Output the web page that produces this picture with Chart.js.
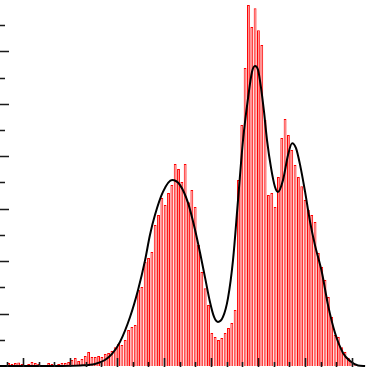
<!DOCTYPE html>
<html>
<head>
<meta charset="utf-8">
<script src="https://cdn.jsdelivr.net/npm/chart.js@4"></script>
<style>
html,body{margin:0;padding:0;background:#fff;overflow:hidden;}
canvas{display:block;}
</style>
</head>
<body>
<canvas id="c" width="367" height="367"></canvas>
<script>
// Histogram bins: first bin center and bin width (x units)
const binStart = -1.34;
const binWidth = 0.2125;
// Histogram heights per bin
const counts = [
  0, 0, 0.11, 0.08, 0.11, 0.13, 0.08, 0, 0.08, 0.15,
  0.11, 0.08, 0.04, 0, 0.11, 0.08, 0, 0.08, 0.11, 0.11,
  0.15, 0.23, 0.31, 0.19, 0.27, 0.38, 0.53, 0.34, 0.34, 0.38,
  0.34, 0.46, 0.50, 0.57, 0.72, 0.84, 0.80, 0.99, 1.37, 1.49,
  1.56, 2.90, 3.01, 3.97, 4.12, 4.35, 5.38, 5.76, 6.41, 6.14,
  6.60, 6.90, 7.70, 7.51, 7.02, 7.70, 6.25, 6.71, 6.06, 4.62,
  3.59, 2.97, 2.33, 1.26, 1.11, 0.99, 1.07, 1.26, 1.45, 1.64,
  2.14, 7.09, 9.19, 11.37, 13.77, 12.93, 13.65, 12.81, 12.24, 9.38,
  6.52, 6.60, 6.06, 7.21, 8.70, 9.42, 8.81, 8.24, 7.67, 7.21,
  6.86, 6.33, 5.95, 5.76, 5.49, 4.31, 3.78, 3.28, 2.63, 1.87,
  1.18, 1.11, 0.72, 0.53, 0.31, 0.15, 0.08, 0, 0, 0
];
// Density curve (x, y)
const curveX = [-1.5, 2.36, 3.64, 4.59, 5.23, 5.68, 6.19, 6.83, 7.34, 7.79, 8.10, 8.42, 8.93, 9.51, 10.02, 10.53, 10.98, 11.30, 11.62, 11.93, 12.19, 12.44, 12.76, 13.08, 13.40, 13.72, 14.04, 14.36, 14.61, 14.80, 15.00, 15.19, 15.38, 15.57, 15.83, 16.08, 16.27, 16.59, 16.91, 17.17, 17.42, 17.68, 18.00, 18.32, 18.63, 19.08, 19.46, 19.91, 20.42, 20.87, 21.38, 21.83];
const curveY = [0, 0, 0.02, 0.08, 0.23, 0.46, 0.92, 1.87, 2.90, 4.04, 5.00, 5.76, 6.64, 7.09, 6.90, 6.22, 5.19, 4.31, 3.36, 2.44, 1.87, 1.68, 1.87, 2.59, 4.04, 6.33, 8.62, 10.22, 11.21, 11.44, 11.29, 10.60, 9.69, 8.62, 7.55, 6.83, 6.64, 7.09, 8.05, 8.50, 8.31, 7.67, 6.64, 5.49, 4.61, 3.55, 2.33, 1.26, 0.50, 0.19, 0.02, 0];
// Tick values
const xTicks = [-1, 0, 1, 2, 3, 4, 5, 6, 7, 8, 9, 10, 11, 12, 13, 14, 15, 16, 17, 18, 19, 20, 21];
const yTicks = [1, 2, 3, 4, 5, 6, 7, 8, 9, 10, 11, 12, 13];

const barData = counts.map((v, i) => ({x: binStart + i * binWidth, y: v}));
const lineData = curveX.map((x, i) => ({x: x, y: curveY[i]}));

const innerTicks = {
  id: 'innerTicks',
  afterDatasetsDraw(chart) {
    const ctx = chart.ctx;
    const xs = chart.scales.x, ys = chart.scales.y;
    const area = chart.chartArea;
    ctx.save();
    ctx.strokeStyle = '#1a1a1a';
    ctx.lineWidth = 1.6;
    ctx.beginPath();
    yTicks.forEach(v => {
      const p = Math.round(ys.getPixelForValue(v)) + 0.5;
      const len = (v % 2 === 0) ? 9 : 5;
      ctx.moveTo(area.left, p);
      ctx.lineTo(area.left + len, p);
    });
    xTicks.forEach(v => {
      const p = Math.round(xs.getPixelForValue(v)) + 0.5;
      const len = (v % 3 === 0) ? 9 : 5;
      ctx.moveTo(p, area.bottom);
      ctx.lineTo(p, area.bottom - len);
    });
    ctx.stroke();
    ctx.restore();
  }
};

new Chart(document.getElementById('c'), {
  type: 'bar',
  data: {
    datasets: [
      {
        type: 'line',
        data: lineData,
        borderColor: '#000000',
        borderWidth: 2,
        pointRadius: 0,
        cubicInterpolationMode: 'monotone',
        fill: false,
        order: 0
      },
      {
        type: 'bar',
        data: barData,
        backgroundColor: '#ff8c8c',
        borderColor: '#ff0000',
        borderWidth: 1,
        barPercentage: 0.85,
        categoryPercentage: 1,
        order: 1
      }
    ]
  },
  options: {
    responsive: false,
    animation: false,
    devicePixelRatio: 1,
    layout: {padding: 0},
    plugins: {legend: {display: false}, tooltip: {enabled: false}},
    scales: {
      x: {type: 'linear', min: -1.468, max: 21.95, offset: false, display: false},
      y: {type: 'linear', min: -0.038, max: 13.96, display: false}
    }
  },
  plugins: [innerTicks]
});
</script>
</body>
</html>
